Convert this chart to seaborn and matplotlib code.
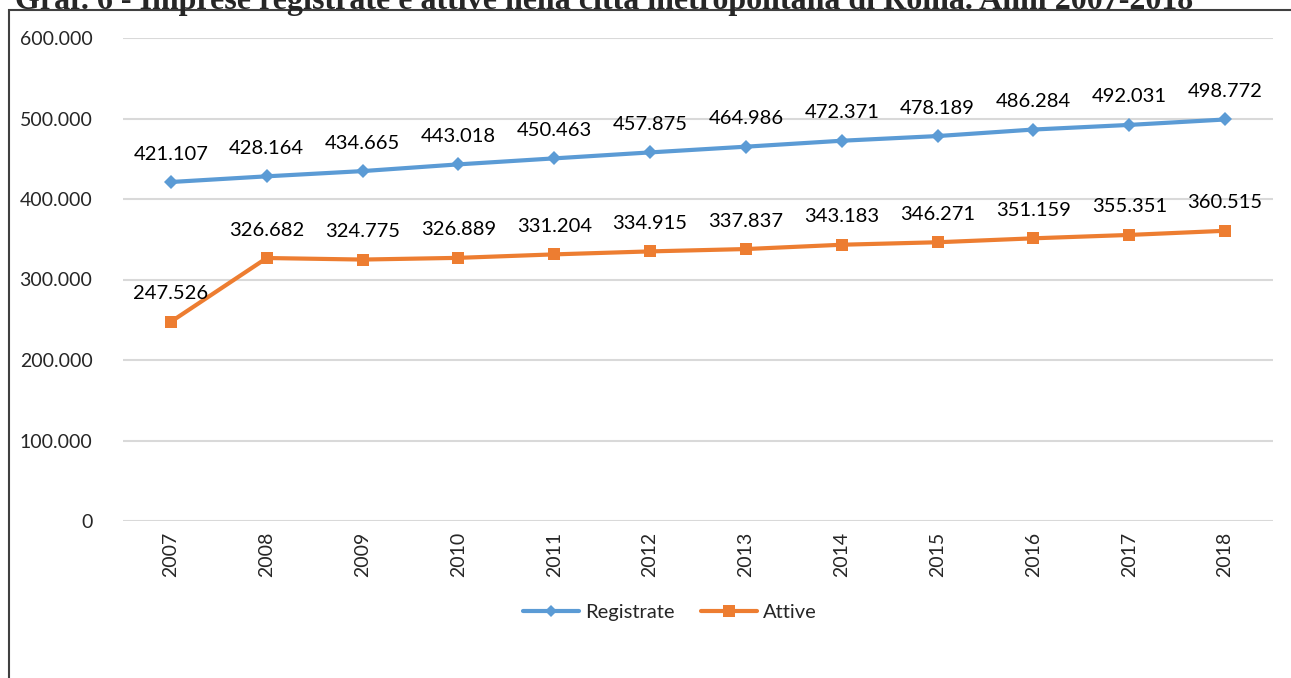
import pandas as pd
import seaborn as sns
import matplotlib.pyplot as plt
from matplotlib.patches import Rectangle
from matplotlib.lines import Line2D
from matplotlib.ticker import FuncFormatter

anni = ['2007', '2008', '2009', '2010', '2011', '2012',
        '2013', '2014', '2015', '2016', '2017', '2018']
registrate = [421107, 428164, 434665, 443018, 450463, 457875,
              464986, 472371, 478189, 486284, 492031, 498772]
attive = [247526, 326682, 324775, 326889, 331204, 334915,
          337837, 343183, 346271, 351159, 355351, 360515]
serie = ['Registrate', 'Attive']
colori = ['#5B9BD5', '#ED7D31']

titolo = 'Graf. 6 - Imprese registrate e attive nella città metropolitana di Roma. Anni 2007-2018'


def fmt_it(v):
    # separatore delle migliaia all'italiana
    return f'{int(v):,}'.replace(',', '.')


df = pd.DataFrame({
    'Anno': anni * 2,
    'Imprese': registrate + attive,
    'Serie': ['Registrate'] * len(anni) + ['Attive'] * len(anni),
})

sns.set_style('white')
plt.rcParams['font.family'] = ['Lato', 'DejaVu Sans']

fig = plt.figure(figsize=(12.91, 6.78), dpi=100)
ax = fig.add_axes([123 / 1291, 1 - 521 / 678, 1150 / 1291, 483 / 678])

sns.lineplot(data=df, x='Anno', y='Imprese', hue='Serie', hue_order=serie,
             palette=colori, style='Serie', style_order=serie,
             markers={'Registrate': 'D', 'Attive': 's'}, dashes=False,
             linewidth=3, markersize=7, markeredgewidth=0, ax=ax, legend=False)
# marker quadrato un po' piu' grande
ax.lines[1].set_markersize(9)

# etichette dei valori
for valori in (registrate, attive):
    for i, v in enumerate(valori):
        ax.annotate(fmt_it(v), (i, v), xytext=(0, 14), textcoords='offset points',
                    ha='center', va='bottom', fontsize=14.5, color='black')

ax.set_xlim(-0.5, len(anni) - 0.5)
ax.set_ylim(0, 600000)
ax.set_yticks(range(0, 600001, 100000))
ax.yaxis.set_major_formatter(FuncFormatter(lambda v, p: fmt_it(v)))
ax.grid(axis='y', color='#D9D9D9', linewidth=1.5)
ax.set_axisbelow(True)
for s in ax.spines.values():
    s.set_visible(False)
ax.tick_params(axis='y', length=0, labelsize=14, pad=22)
ax.tick_params(axis='x', length=0, labelsize=14, pad=8, labelrotation=90)
ax.set_xlabel('')
ax.set_ylabel('')

# legenda in basso
handles = [Line2D([], [], color=colori[0], lw=3, marker='D', markersize=6, markeredgewidth=0),
           Line2D([], [], color=colori[1], lw=3, marker='s', markersize=8, markeredgewidth=0)]
fig.legend(handles, serie, loc='center', bbox_to_anchor=(0.519, 1 - 612 / 678),
           ncol=2, frameon=False, fontsize=14.5, handlelength=2.8,
           handletextpad=0.3, columnspacing=1.3)

# cornice del grafico
fig.patches.append(Rectangle((9 / 1291, -0.2), 1.2, 1.2 - 10 / 678,
                             transform=fig.transFigure, fill=False,
                             edgecolor='#404040', linewidth=1.5))

# titolo tagliato in alto, come nell'originale
fig.text(15 / 1291, 1 - 9 / 678, titolo, family='Liberation Serif',
         fontweight='bold', fontsize=23, ha='left', va='baseline')

fig.savefig('out.png', dpi=100)
